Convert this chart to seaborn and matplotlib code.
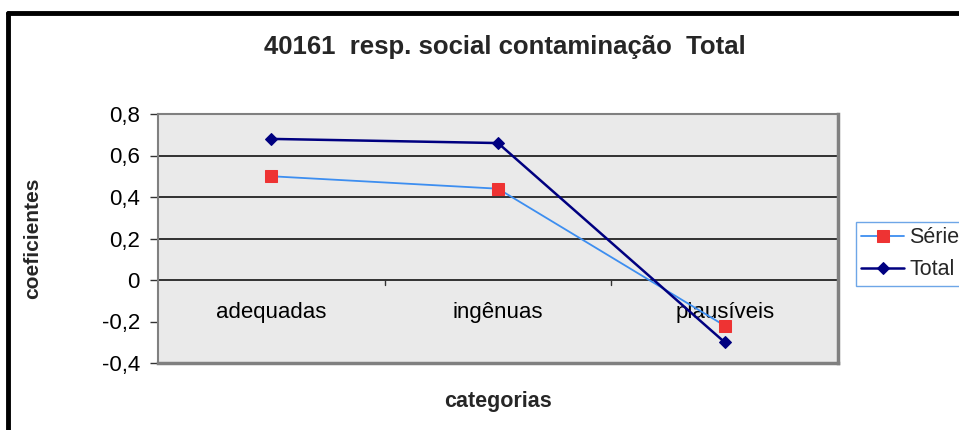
import matplotlib
matplotlib.use("Agg")
import matplotlib.pyplot as plt
import seaborn as sns
import pandas as pd
from matplotlib.lines import Line2D

categories = ["adequadas", "ingênuas", "plausíveis"]
serie1 = [0.50, 0.44, -0.22]
total = [0.68, 0.66, -0.30]
y_ticks = [-0.4, -0.2, 0.0, 0.2, 0.4, 0.6, 0.8]
y_tick_labels = ["-0,4", "-0,2", "0", "0,2", "0,4", "0,6", "0,8"]
grid_values = [0.0, 0.2, 0.4, 0.6]
title = "40161  resp. social contaminação  Total"
series_names = ["Série1", "Total"]

sns.set_theme(style="white")
plt.rcParams["font.family"] = ["Liberation Sans", "DejaVu Sans"]

df1 = pd.DataFrame({"cat": categories, "val": serie1})
df2 = pd.DataFrame({"cat": categories, "val": total})

fig = plt.figure(figsize=(9.59, 4.30), dpi=100)
fig.patch.set_facecolor("white")
ax = fig.add_axes([158/959, (430-363)/430, (838-158)/959, (363-114)/430])
ax.set_facecolor("#EAEAEA")

sns.lineplot(data=df1, x="cat", y="val", ax=ax, color="#3D8EF0", lw=1.3,
             marker="s", markersize=9, markerfacecolor="#EE3333",
             markeredgecolor="#EE3333", label=series_names[0], zorder=3)
sns.lineplot(data=df2, x="cat", y="val", ax=ax, color="#000080", lw=1.8,
             marker="D", markersize=6.5, markerfacecolor="#000080",
             markeredgecolor="#000080", label=series_names[1], zorder=4)

ax.set_xlim(-0.5, len(categories) - 0.5)
ax.set_ylim(-0.4, 0.8)
ax.set_yticks(y_ticks)
ax.set_yticklabels(y_tick_labels, fontsize=16)
for yt in grid_values:
    ax.axhline(yt, color="black", lw=1.1, zorder=1)
ax.tick_params(axis="y", which="both", left=True, length=6, width=1,
               color="#333333", pad=7, labelcolor="black")
ax.set_xticks([])
ax.set_xlabel("categorias", fontsize=15.5, fontweight="bold", labelpad=20)
ax.set_ylabel("coeficientes", fontsize=15, fontweight="bold")
ax.yaxis.set_label_coords((42 - 158) / 680, 0.5)

# category labels inside the plot below the zero line
for i, c in enumerate(categories):
    ax.text(i, -0.155, c, ha="center", va="center", fontsize=16, color="black", zorder=2)
# category boundary ticks on zero line
for b in [0.5, 1.5]:
    ax.plot([b, b], [0, -0.022], color="#333333", lw=1, zorder=2)

for s in ["left", "top"]:
    ax.spines[s].set_color("#808080")
    ax.spines[s].set_linewidth(1.5)
for s in ["right", "bottom"]:
    ax.spines[s].set_color("#808080")
    ax.spines[s].set_linewidth(2.5)

fig.text(505/959, 1 - 47/430, title, ha="center", va="center",
         fontsize=18.5, fontweight="bold")

leg = ax.legend(loc="upper left", bbox_to_anchor=(856/959, 1 - 222/430),
                bbox_transform=fig.transFigure, fontsize=15.5, frameon=True,
                fancybox=False, edgecolor="#4A90E2", facecolor="white",
                handlelength=2.0, handletextpad=0.22, borderpad=0.25,
                labelspacing=0.5, borderaxespad=0)
leg.get_frame().set_linewidth(1.0)

# outer chart border (top and left)
fig.add_artist(Line2D([8/959, 1], [1 - 13/430, 1 - 13/430], color="black",
                      lw=3.5, transform=fig.transFigure))
fig.add_artist(Line2D([8/959, 8/959], [0, 1 - 13/430], color="black",
                      lw=3.5, transform=fig.transFigure))

fig.savefig("out.png", dpi=100)
